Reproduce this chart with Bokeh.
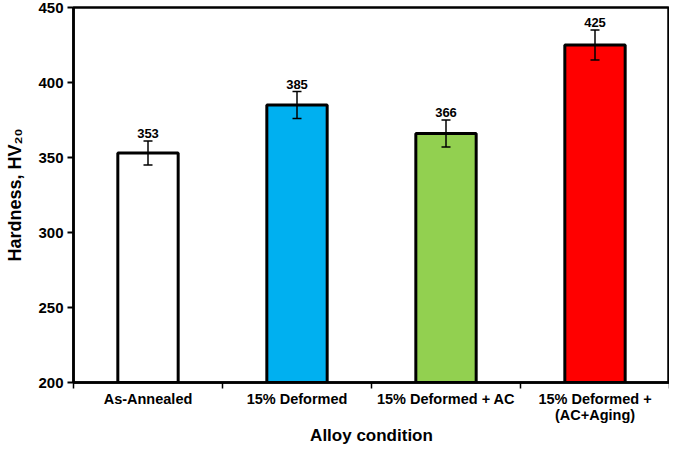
from bokeh.plotting import figure
from bokeh.models import ColumnDataSource, FixedTicker, Whisker, TeeHead, Range1d
from bokeh.core.properties import value
from bokeh.embed import file_html
from bokeh.resources import INLINE

categories = ["As-Annealed", "15% Deformed", "15% Deformed + AC", "15% Deformed +\n(AC+Aging)"]
hardness = [353, 385, 366, 425]
errors = [8, 9, 9, 10]
colors = ["#FFFFFF", "#00B0F0", "#92D050", "#FF0000"]
y_ticks = [200, 250, 300, 350, 400, 450]

xs = [i + 0.5 for i in range(len(categories))]
src = ColumnDataSource(dict(
    x=xs, top=hardness, color=colors,
    upper=[h + e for h, e in zip(hardness, errors)],
    lower=[h - e for h, e in zip(hardness, errors)],
    label=[str(h) for h in hardness],
))

FONT = "Liberation Sans"

p = figure(width=669, height=447, output_backend="svg", toolbar_location=None,
           x_range=Range1d(0, len(categories)), y_range=Range1d(200, 450),
           min_border_left=73, min_border_top=7, min_border_right=0, min_border_bottom=0)
p.background_fill_color = "white"
p.outline_line_color = "black"
p.outline_line_width = 2.5
p.xgrid.visible = False
p.ygrid.visible = False

p.vbar(x="x", top="top", bottom=200, width=0.405, fill_color="color",
       line_color="black", line_width=3, source=src)

wh = Whisker(base="x", upper="upper", lower="lower", source=src,
             line_color="black", line_width=1.5, level="overlay",
             upper_head=TeeHead(size=9, line_color="black", line_width=1.5),
             lower_head=TeeHead(size=9, line_color="black", line_width=1.5))
p.add_layout(wh)

p.text(x="x", y="upper", text="label", source=src, text_align="center",
       text_baseline="bottom", y_offset=-3, text_font=value(FONT),
       text_font_style="bold", text_font_size="13px", text_color="black")

# axes
p.yaxis.ticker = FixedTicker(ticks=y_ticks)
p.yaxis.axis_line_width = 2.5
p.yaxis.major_tick_line_width = 2
p.yaxis.major_tick_out = 6
p.yaxis.major_tick_in = 0
p.yaxis.minor_tick_line_color = None
p.yaxis.major_label_text_font = FONT
p.yaxis.major_label_text_font_style = "bold"
p.yaxis.major_label_text_font_size = "15px"
p.yaxis.major_label_text_color = "black"
p.yaxis.major_label_standoff = 4
p.yaxis.axis_label = "Hardness, HV₂₀"
p.yaxis.axis_label_text_font = FONT
p.yaxis.axis_label_text_font_style = "bold"
p.yaxis.axis_label_text_font_size = "18px"
p.yaxis.axis_label_text_color = "black"
p.yaxis.axis_label_standoff = 10

p.xaxis.ticker = FixedTicker(ticks=xs, minor_ticks=list(range(len(categories) + 1)))
p.xaxis.major_label_overrides = {x: c for x, c in zip(xs, categories)}
p.xaxis.axis_line_width = 2.5
p.xaxis.major_tick_line_color = None
p.xaxis.major_tick_out = 0
p.xaxis.major_tick_in = 0
p.xaxis.minor_tick_line_width = 1.5
p.xaxis.minor_tick_out = 6
p.xaxis.minor_tick_in = 0
p.xaxis.major_label_text_font = FONT
p.xaxis.major_label_text_font_style = "bold"
p.xaxis.major_label_text_font_size = "14.5px"
p.xaxis.major_label_text_line_height = 1.0
p.xaxis.major_label_text_color = "black"
p.xaxis.major_label_standoff = 2
p.xaxis.axis_label = "Alloy condition"
p.xaxis.axis_label_text_font = FONT
p.xaxis.axis_label_text_font_style = "bold"
p.xaxis.axis_label_text_font_size = "17px"
p.xaxis.axis_label_text_line_height = 1.0
p.xaxis.axis_label_text_color = "black"
p.xaxis.axis_label_standoff = 0

open("out.html", "w").write(file_html(p, INLINE))
